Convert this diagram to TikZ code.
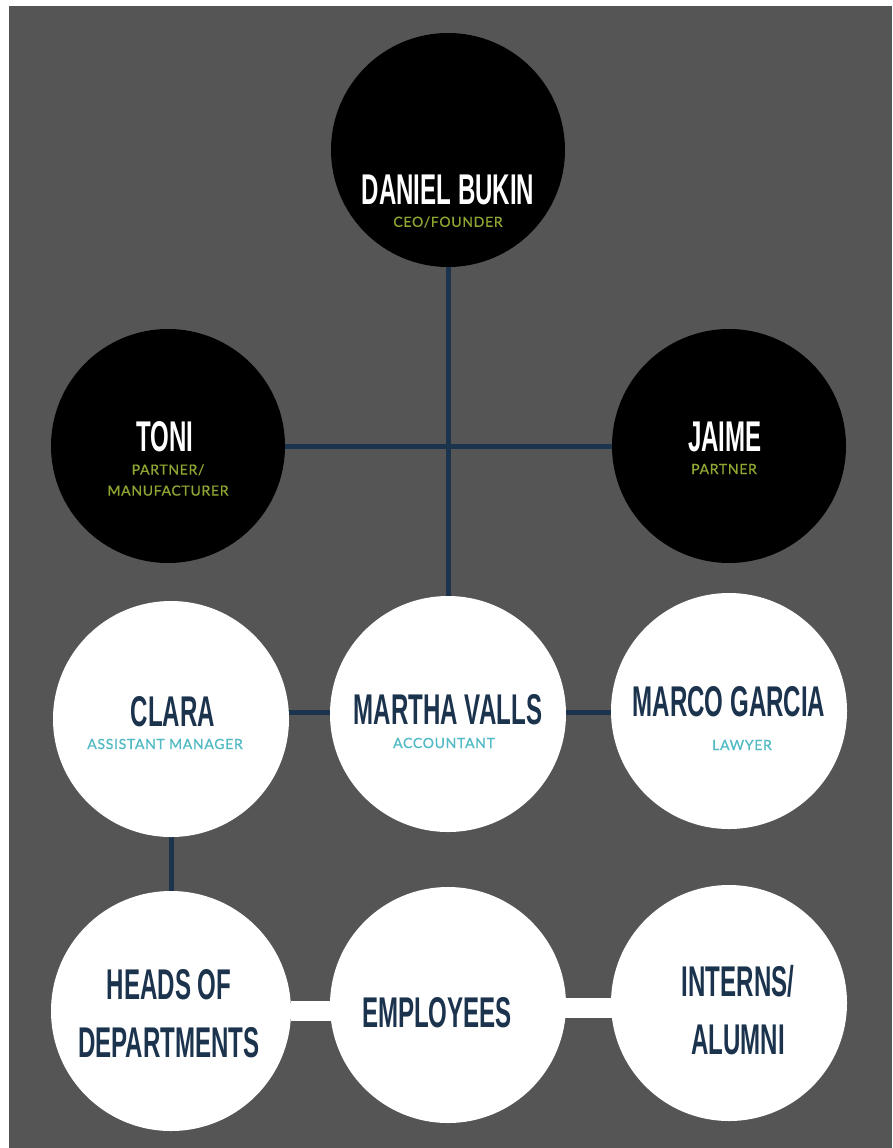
\documentclass[tikz,border=0pt]{standalone}
\usepackage{fontspec}
\usepackage{xcolor}
\newfontfamily\nomfont[FakeStretch=0.56]{Liberation Sans}
\newfontfamily\rolefont[LetterSpace=5,FakeBold=0.8]{Lato}
\definecolor{fond}{RGB}{85,85,85}
\definecolor{marine}{RGB}{28,51,78}
\definecolor{olive}{RGB}{142,166,50}
\definecolor{turquoise}{RGB}{82,186,196}
\pgfdeclarelayer{fond}
\pgfdeclarelayer{liens}
\pgfsetlayers{fond,liens,main}

\begin{document}
\begin{tikzpicture}[x=1pt,y=-1pt,
  noir/.style={circle,fill=black,minimum size=234pt,inner sep=0pt},
  blanc/.style={circle,fill=white,minimum size=236pt,inner sep=0pt},
  nomnoir/.style={text=white,inner sep=0pt,align=center,
    font=\nomfont\bfseries\fontsize{43}{58}\selectfont},
  nomblanc/.style={nomnoir,text=marine},
  rolenoir/.style={text=olive,inner sep=0pt,align=center,
    font=\rolefont\fontsize{14}{21}\selectfont},
  roleblanc/.style={rolenoir,text=turquoise},
  lien/.style={draw=marine,line width=5pt},
  barre/.style={draw=white,line width=20pt}]
%% cadre
\useasboundingbox (0,0) rectangle (892,1148);
\begin{pgfonlayer}{fond}
\fill[fond] (9,6) rectangle (892,1148);
\end{pgfonlayer}

%% direction
\node[noir] (daniel) at (448,150) {};
\node[nomnoir] (danielnom) at ([yshift=-40pt]daniel) {DANIEL BUKIN};
\node[rolenoir] (danielrole) at ([yshift=-72pt]daniel) {CEO/FOUNDER};

\node[noir] (toni) at (168,446) {};
\node[nomnoir] (toninom) at ([xshift=-3pt,yshift=9pt]toni) {TONI};
\node[rolenoir] (tonirole) at ([yshift=-34pt]toni) {PARTNER/\\MANUFACTURER};

\node[noir] (jaime) at (729,446) {};
\node[nomnoir] (jaimenom) at ([xshift=-4pt,yshift=9pt]jaime) {JAIME};
\node[rolenoir] (jaimerole) at ([xshift=-5pt,yshift=-23pt]jaime) {PARTNER};

%% equipe
\node[blanc] (clara) at (171,719) {};
\node[nomblanc] (claranom) at ([xshift=2pt,yshift=7pt]clara) {CLARA};
\node[roleblanc] (clararole) at ([xshift=-6pt,yshift=-25pt]clara) {ASSISTANT MANAGER};

\node[blanc] (martha) at (448,714) {};
\node[nomblanc] (marthanom) at ([yshift=4pt]martha) {MARTHA VALLS};
\node[roleblanc] (martharole) at ([xshift=-4pt,yshift=-29pt]martha) {ACCOUNTANT};

\node[blanc] (marco) at (729,711) {};
\node[nomblanc] (marconom) at ([yshift=9pt]marco) {MARCO GARCIA};
\node[roleblanc] (marcorole) at ([xshift=13pt,yshift=-34pt]marco) {LAWYER};

%% personnel
\node[blanc,minimum size=240pt] (heads) at (171,1011) {};
\node[nomblanc] (headsnom) at ([xshift=-2pt,yshift=-3pt]heads) {HEADS OF\\DEPARTMENTS};

\node[blanc] (employees) at (448,1005) {};
\node[nomblanc] (employeesnom) at ([xshift=-11pt,yshift=-8pt]employees) {EMPLOYEES};

\node[blanc] (interns) at (729,1003) {};
\node[nomblanc] (internsnom) at ([xshift=9pt,yshift=-7pt]interns) {INTERNS/\\ALUMNI};

%% liens
\begin{pgfonlayer}{liens}
\draw[lien] (daniel) -- (martha);
\draw[lien] (toni) -- (jaime);
\draw[lien] ([yshift=7pt]clara.center) -- ([yshift=7pt]clara.center -| martha);
\draw[lien] ([yshift=2pt]martha.center) -- ([yshift=2pt]martha.center -| marco);
\draw[lien] (clara) -- (heads);
\draw[barre] (heads) -- (heads -| employees);
\draw[barre] ([yshift=-3pt]employees.center) -- ([yshift=-3pt]employees.center -| interns);
\end{pgfonlayer}
\end{tikzpicture}
\end{document}
